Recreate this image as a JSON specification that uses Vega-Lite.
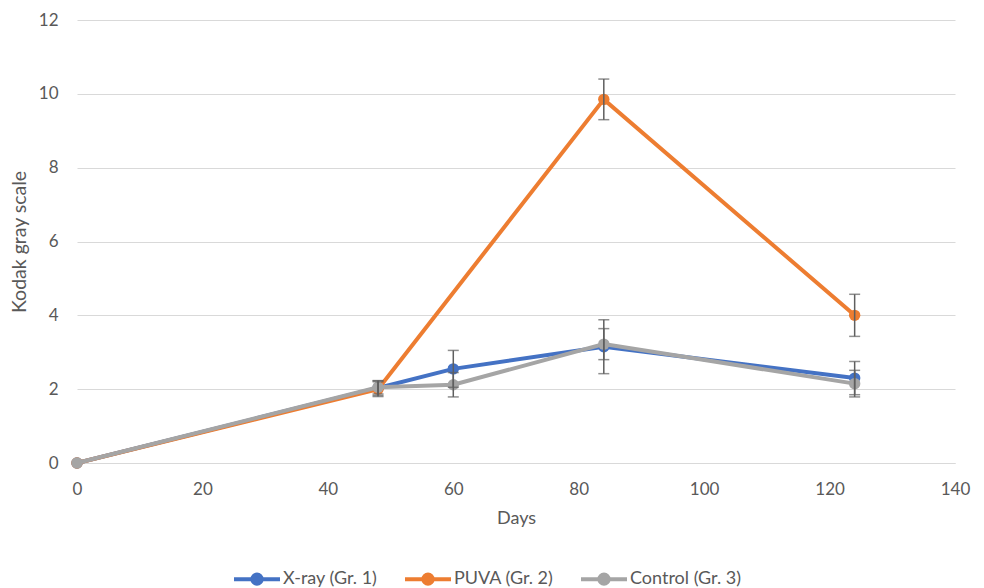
{
  "$schema": "https://vega.github.io/schema/vega-lite/v6.json",
  "width": 878,
  "height": 443,
  "autosize": "none",
  "padding": {"left": 77, "top": 20, "right": 29, "bottom": 125},
  "background": "white",
  "config": {
    "font": "Lato",
    "view": {"stroke": null},
    "legend": {"padding": 0}
  },
  "data": {
    "values": [
      {"day": 0, "group": "X-ray (Gr. 1)", "value": 0, "err": null},
      {"day": 48, "group": "X-ray (Gr. 1)", "value": 2.03, "err": 0.2},
      {"day": 60, "group": "X-ray (Gr. 1)", "value": 2.55, "err": 0.5},
      {"day": 84, "group": "X-ray (Gr. 1)", "value": 3.15, "err": 0.73},
      {"day": 124, "group": "X-ray (Gr. 1)", "value": 2.3, "err": 0.45},
      {"day": 0, "group": "PUVA (Gr. 2)", "value": 0, "err": null},
      {"day": 48, "group": "PUVA (Gr. 2)", "value": 2.0, "err": 0.2},
      {"day": 84, "group": "PUVA (Gr. 2)", "value": 9.85, "err": 0.55},
      {"day": 124, "group": "PUVA (Gr. 2)", "value": 4.0, "err": 0.57},
      {"day": 0, "group": "Control (Gr. 3)", "value": 0, "err": null},
      {"day": 48, "group": "Control (Gr. 3)", "value": 2.05, "err": 0.18},
      {"day": 60, "group": "Control (Gr. 3)", "value": 2.12, "err": 0.33},
      {"day": 84, "group": "Control (Gr. 3)", "value": 3.22, "err": 0.42},
      {"day": 124, "group": "Control (Gr. 3)", "value": 2.15, "err": 0.36}
    ]
  },
  "encoding": {
    "x": {
      "field": "day", "type": "quantitative",
      "scale": {"domain": [0, 140], "nice": false, "zero": true},
      "axis": {"values": [0, 20, 40, 60, 80, 100, 120, 140], "title": "Days", "grid": false, "domainColor": "#d9d9d9", "domainWidth": 1, "ticks": false, "labelFlush": false, "labelPadding": 18, "titlePadding": 12,
        "labelFont": "Lato", "labelFontSize": 17, "labelColor": "#595959", "titleFont": "Lato", "titleFontSize": 18, "titleFontWeight": "normal", "titleColor": "#595959"}
    },
    "y": {
      "field": "value", "type": "quantitative",
      "scale": {"domain": [0, 12], "nice": false},
      "axis": {"values": [0, 2, 4, 6, 8, 10, 12], "title": "Kodak gray scale", "domain": false, "ticks": false, "gridColor": "#d9d9d9", "gridWidth": 1, "labelPadding": 19, "titlePadding": 9,
        "labelFont": "Lato", "labelFontSize": 17, "labelColor": "#595959", "titleFont": "Lato", "titleFontSize": 19.5, "titleFontWeight": "normal", "titleColor": "#595959"}
    },
    "color": {
      "field": "group", "type": "nominal",
      "scale": {"domain": ["X-ray (Gr. 1)", "PUVA (Gr. 2)", "Control (Gr. 3)"], "range": ["#4472C4", "#ED7D31", "#A5A5A5"]},
      "legend": {
        "orient": "none", "legendX": 155, "legendY": 534, "direction": "horizontal", "title": null,
        "symbolType": "M-1,0H1M-0.2,0A0.2,0.2,0,1,1,0.2,0A0.2,0.2,0,1,1,-0.2,0Z",
        "symbolSize": 2116, "symbolStrokeWidth": 4,
        "labelFontSize": 18, "labelColor": "#595959", "labelFont": "Lato", "labelOffset": 1, "columnPadding": 19,
        "encode": {"symbols": {"update": {"stroke": {"scale": "color", "field": "value"}, "fill": {"scale": "color", "field": "value"}, "strokeWidth": {"value": 4}, "opacity": {"value": 1}}}}
      }
    }
  },
  "layer": [
    {"transform": [{"filter": "datum.group === 'X-ray (Gr. 1)'"}], "mark": {"type": "line", "strokeWidth": 4}},
    {"transform": [{"filter": "datum.group === 'X-ray (Gr. 1)'"}], "mark": {"type": "point", "filled": true, "size": 130, "opacity": 1}},
    {"transform": [{"filter": "datum.group === 'PUVA (Gr. 2)'"}], "mark": {"type": "line", "strokeWidth": 4}},
    {"transform": [{"filter": "datum.group === 'PUVA (Gr. 2)'"}], "mark": {"type": "point", "filled": true, "size": 130, "opacity": 1}},
    {"transform": [{"filter": "datum.group === 'Control (Gr. 3)'"}], "mark": {"type": "line", "strokeWidth": 4}},
    {"transform": [{"filter": "datum.group === 'Control (Gr. 3)'"}], "mark": {"type": "point", "filled": true, "size": 130, "opacity": 1}},
    {
      "transform": [{"filter": "datum.err > 0"}],
      "mark": {"type": "errorbar", "color": "#5f5f5f", "ticks": {"size": 11, "thickness": 1.5, "color": "#5f5f5f"}, "rule": {"strokeWidth": 1.5}},
      "encoding": {
        "x": {"field": "day", "type": "quantitative"},
        "y": {"field": "value", "type": "quantitative"},
        "yError": {"field": "err"},
        "color": {"value": "#5f5f5f"}
      }
    }
  ]
}
